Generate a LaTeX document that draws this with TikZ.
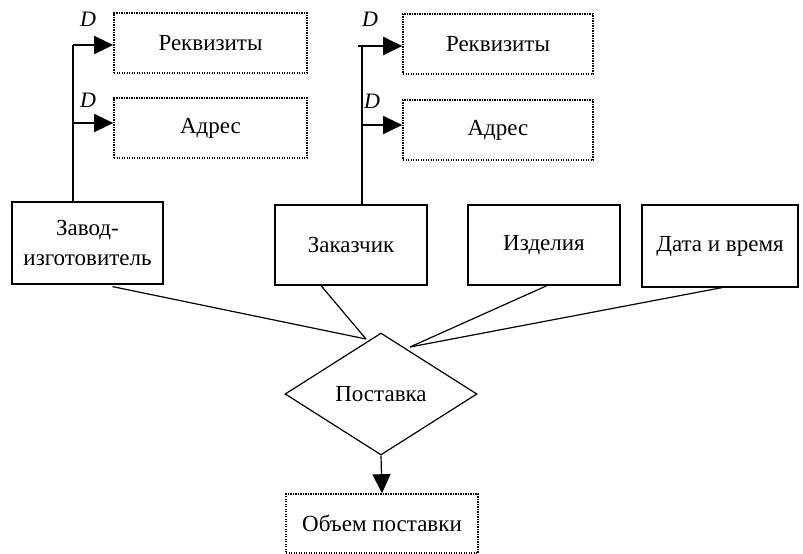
\documentclass[tikz,border=0pt]{standalone}
\usepackage{fontspec}
\setmainfont{Liberation Serif}
\usetikzlibrary{arrows.meta,shapes.geometric}
\begin{document}
\begin{tikzpicture}[x=1pt,y=-1pt,
  every node/.style={font=\fontsize{23}{27}\selectfont},
  solidbox/.style={draw,line width=1.2pt,inner sep=0pt,align=center},
  dotbox/.style={draw,line width=1.6pt,dash pattern=on 1.4pt off 1.1pt,inner sep=0pt,align=center},
  conn/.style={line width=1.2pt},
  arr/.style={line width=1.2pt,-{Triangle[length=19pt,width=18pt]}},
  dlab/.style={font=\fontsize{22}{26}\selectfont\itshape,inner sep=0pt}]
\useasboundingbox (0,0) rectangle (803,554);
% attribute boxes
\node[dotbox,minimum width=193,minimum height=60] (rek1) at (210.5,43) {Реквизиты};
\node[dotbox,minimum width=193,minimum height=60] (adr1) at (210.5,128) {Адрес};
\node[dotbox,minimum width=190,minimum height=60] (rek2) at (498,44) {Реквизиты};
\node[dotbox,minimum width=190,minimum height=60] (adr2) at (498,130) {Адрес};
% entity boxes
\node[solidbox,minimum width=151,minimum height=82,font=\fontsize{23}{30}\selectfont] (zavod) at (87.5,243) {Завод-\\изготовитель};
\node[solidbox,minimum width=152,minimum height=80] (zak) at (351,245) {Заказчик};
\node[solidbox,minimum width=152,minimum height=80] (izd) at (544,245) {Изделия};
\node[solidbox,minimum width=156,minimum height=82] (data) at (720,246) {Дата и время};
% relationship
\node[draw,line width=1.2pt,shape=diamond,inner sep=0pt,minimum width=192,minimum height=122] (post) at (381,394) {Поставка};
\node[dotbox,minimum width=192,minimum height=59] (vol) at (382,523.5) {Объем поставки};
% D labels
\node[dlab] (d1) at (88,19) {D};
\node[dlab] (d2) at (88,100) {D};
\node[dlab] (d3) at (370,19) {D};
\node[dlab] (d4) at (372,101) {D};
% junctions
\coordinate (j1) at (73,45);
\coordinate (j1b) at (73,123);
\coordinate (j2) at (362,46);
\coordinate (j2s) at (358,46);
\coordinate (j2b) at (362,125);
\coordinate (pa) at (366,339);
\coordinate (pb) at (410,347);
% left tree
\draw[conn] ([yshift=-2pt]zavod.north -| j1) -- (j1);
\draw[arr] (j1) -- (j1 -| rek1.west);
\draw[arr] (j1b) -- (j1b -| adr1.west);
% right tree
\draw[conn] (zak.north -| j2) -- (j2);
\draw[arr,line width=2pt] (j2s) -- (j2s -| rek2.west);
\draw[arr] (j2b) -- (j2b -| adr2.west);
% lines to diamond
\draw[conn] ([xshift=25pt,yshift=-2pt]zavod.south) -- (pa);
\draw[conn] ([xshift=-30pt]zak.south) -- (pa);
\draw[conn] ([xshift=3pt]izd.south) -- (pb);
\draw[conn] ([xshift=2pt]data.south) -- (pb);
\draw[arr] (post.south) -- (vol.north);
\end{tikzpicture}
\end{document}
